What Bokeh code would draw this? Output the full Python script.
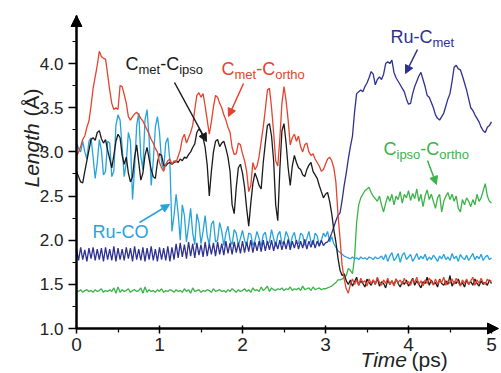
import math
from bokeh.plotting import figure
from bokeh.models import (Range1d, FixedTicker, PrintfTickFormatter, Label, Arrow,
                          NormalHead, LinearAxis)
from bokeh.embed import file_html
from bokeh.resources import INLINE

FONT = "Liberation Sans"

# ---------------- data ----------------
# sampling grid, ps
time_ps = [round(i * 0.025, 3) for i in range(201)]

# C_met - C_ortho (red)
cmet_cortho = [
    2.95, 3.00, 3.06, 3.14, 3.18, 3.28, 3.35, 3.52, 3.72, 3.85,
    3.98, 4.14, 4.08, 4.06, 4.05, 3.88, 3.70, 3.55, 3.48, 3.50,
    3.48, 3.75, 3.74, 3.65, 3.55, 3.40, 3.36, 3.40, 3.43, 3.45,
    3.42, 3.38, 3.35, 3.30, 3.25, 3.20, 3.14, 3.10, 3.04, 3.00,
    2.88, 2.82, 2.78, 2.86, 2.90, 2.92, 2.86, 2.90, 2.88, 2.95,
    3.02, 3.15, 3.20, 3.10, 3.16, 3.22, 3.30, 3.48, 3.64, 3.67,
    3.62, 3.66, 3.52, 3.36, 3.20, 3.34, 3.51, 3.64, 3.62, 3.55,
    3.50, 3.42, 3.36, 3.28, 3.22, 3.05, 2.97, 2.98, 3.10, 3.08,
    2.98, 2.90, 2.78, 2.55, 2.62, 2.88, 2.80, 2.84, 2.95, 3.12,
    3.28, 3.48, 3.70, 3.72, 3.50, 3.22, 2.90, 2.84, 3.15, 3.55,
    3.74, 3.58, 3.36, 3.08, 3.16, 3.20, 3.12, 3.18, 3.06, 3.00,
    3.08, 3.10, 3.00, 2.96, 2.98, 2.92, 2.88, 2.84, 2.78, 2.80,
    2.86, 2.92, 2.94, 2.90, 2.82, 2.66, 2.30, 2.02, 1.72, 1.56,
    1.45, 1.40, 1.50,
    1.56, 1.50, 1.55, 1.49, 1.57, 1.52, 1.54, 1.48, 1.56, 1.51,
    1.55, 1.50, 1.58, 1.52, 1.49, 1.55, 1.51, 1.57, 1.50, 1.54,
    1.48, 1.56, 1.52, 1.55, 1.50, 1.57, 1.51, 1.53, 1.49, 1.56,
    1.52, 1.58, 1.50, 1.54, 1.48, 1.55, 1.51, 1.57, 1.53, 1.49,
    1.56, 1.50, 1.55, 1.52, 1.58, 1.49, 1.54, 1.51, 1.56, 1.50,
    1.57, 1.52, 1.48, 1.55, 1.51, 1.56, 1.50, 1.54, 1.58, 1.49,
    1.55, 1.51, 1.57, 1.52, 1.50, 1.56, 1.53, 1.54,
]

# C_met - C_ipso (black)
cmet_cipso = [
    2.78, 2.72, 2.66, 2.65, 2.78, 2.90, 3.02, 3.14, 3.16, 3.13,
    3.22, 3.24, 3.15, 3.10, 3.14, 3.02, 2.92, 2.82, 2.96, 3.12,
    3.20, 3.16, 2.96, 2.86, 2.94, 2.76, 2.66, 2.72, 2.94, 3.08,
    2.88, 2.68, 2.76, 2.96, 3.05, 2.92, 2.80, 2.72, 2.70, 2.88,
    2.98, 2.96, 2.85, 2.84, 2.87, 2.88, 2.86, 2.88, 2.90, 2.88,
    2.92, 2.90, 2.94, 2.93, 2.97, 3.00, 3.05, 3.09, 3.22, 3.26,
    3.23, 3.16, 3.05, 2.85, 2.50, 2.78, 3.00, 3.12, 3.14, 3.06,
    3.10, 3.12, 3.04, 2.94, 2.78, 2.40, 2.30, 2.60, 2.82, 2.86,
    2.76, 2.60, 2.36, 2.16, 2.42, 2.64, 2.76, 2.70, 2.62, 2.58,
    2.88, 3.10, 3.30, 3.32, 3.18, 2.90, 2.40, 2.22, 2.80, 3.24,
    3.32, 3.10, 2.82, 2.62, 2.84, 2.96, 2.88, 2.82, 2.80, 2.74,
    2.72, 2.80, 2.85, 2.88, 2.78, 2.74, 2.70, 2.62, 2.55, 2.48,
    2.52, 2.54, 2.44, 2.30, 2.12, 1.98, 1.80, 1.66, 1.60, 1.62,
    1.54,
    1.50, 1.55, 1.48, 1.53, 1.58, 1.49, 1.54, 1.51, 1.47, 1.56,
    1.52, 1.49, 1.55, 1.50, 1.57, 1.48, 1.53, 1.51, 1.46, 1.55,
    1.50, 1.54, 1.49, 1.56, 1.51, 1.47, 1.53, 1.50, 1.55, 1.48,
    1.52, 1.57, 1.49, 1.54, 1.50, 1.46, 1.53, 1.51, 1.58, 1.49,
    1.55, 1.50, 1.52, 1.47, 1.56, 1.51, 1.49, 1.54, 1.50, 1.60,
    1.48, 1.53, 1.51, 1.56, 1.49, 1.52, 1.47, 1.55, 1.50, 1.53,
    1.49, 1.56, 1.51, 1.48, 1.54, 1.50, 1.52, 1.49, 1.55, 1.51,
]

# Ru - CO (light blue)
ru_co = [
    3.10, 3.04, 3.00, 3.12, 3.00, 2.92, 3.12, 3.16, 2.94, 2.70,
    2.88, 3.14, 3.02, 2.74, 2.78, 3.12, 3.10, 2.72, 2.78, 3.30,
    3.42, 3.36, 3.05, 2.72, 2.88, 3.22, 3.12, 2.46, 2.82, 3.30,
    3.44, 2.95, 2.80, 3.36, 3.48, 3.15, 2.62, 2.90, 3.28, 3.40,
    3.22, 2.88, 2.80, 3.10, 3.16, 2.90, 2.10, 2.28, 2.52, 2.30,
    2.00, 2.40, 2.28, 1.98, 2.16, 2.36, 2.08, 1.95, 2.30, 2.20,
    1.96, 2.10, 2.28, 2.05, 1.95, 2.18, 2.22, 1.98, 2.00, 2.20,
    2.10, 1.94, 2.08, 2.16, 2.00, 1.95, 2.12, 2.08, 1.94, 2.02,
    2.11, 2.00, 1.94, 2.08, 2.07, 1.94, 2.00, 2.10, 2.02, 1.93,
    2.06, 2.09, 1.96, 1.98, 2.12, 2.02, 1.93, 2.06, 2.10, 1.96,
    1.98, 2.10, 2.04, 1.93, 2.04, 2.09, 1.97, 1.96, 2.08, 2.06,
    1.94, 2.02, 2.10, 1.98, 1.95, 2.08, 2.05, 1.94, 2.00, 2.08,
    2.04, 2.10, 1.98, 2.04, 1.96, 1.92, 1.88, 1.86, 1.84, 1.82,
    1.81, 1.80,
    1.79, 1.81, 1.79, 1.80, 1.78, 1.81, 1.79, 1.80, 1.78, 1.81,
    1.80, 1.78, 1.81, 1.79, 1.80, 1.82, 1.78,
    1.84, 1.76, 1.82, 1.86, 1.77, 1.80, 1.85, 1.75, 1.83, 1.86,
    1.78, 1.81, 1.84, 1.76, 1.80, 1.85, 1.78, 1.82, 1.79, 1.84,
    1.77, 1.81, 1.78, 1.83, 1.80, 1.76, 1.82, 1.79, 1.84, 1.78,
    1.81, 1.77, 1.85, 1.79, 1.82, 1.76, 1.84, 1.80, 1.78, 1.83,
    1.77, 1.81, 1.85, 1.78, 1.82, 1.79, 1.84, 1.77, 1.81, 1.83,
    1.78, 1.80,
]

# Ru - C_met (dark blue)
ru_cmet = [
    1.90, 1.77, 1.92, 1.78, 1.89, 1.76, 1.91, 1.79, 1.92, 1.77,
    1.90, 1.78, 1.91, 1.76, 1.92, 1.78, 1.90, 1.77, 1.93, 1.76,
    1.91, 1.78, 1.90, 1.77, 1.92, 1.79, 1.91, 1.76, 1.93, 1.78,
    1.90, 1.77, 1.92, 1.76, 1.91, 1.78, 1.93, 1.77, 1.90, 1.76,
    1.92, 1.78, 1.91, 1.77, 1.93, 1.76, 1.92, 1.78,
    1.96, 1.80, 1.97, 1.81, 1.95, 1.79, 1.98, 1.82, 1.96, 1.80,
    1.97, 1.83, 1.95, 1.81, 1.98, 1.82, 1.96, 1.84, 1.97, 1.82,
    1.98, 1.84, 1.96, 1.83, 1.99, 1.85, 1.97, 1.84, 1.98, 1.86,
    1.97, 1.85, 1.99, 1.86, 1.98, 1.87, 2.00, 1.86, 1.98, 1.88,
    1.99, 1.87, 2.00,
    1.88, 1.99, 1.89, 2.00, 1.88, 1.98, 1.90, 2.00, 1.89, 1.99,
    1.90, 2.01, 1.89, 1.99, 1.91, 2.00, 1.90, 1.99, 1.91, 2.01,
    1.90, 1.99, 1.92, 2.00, 1.91, 1.99, 1.93, 2.00, 1.94, 1.97,
    1.98, 2.02, 2.08, 2.15, 2.22, 2.28, 2.31, 2.45, 2.62, 2.76,
    2.92, 3.06, 3.18, 3.45, 3.66, 3.68, 3.70, 3.68, 3.74, 3.78,
    3.84, 3.91, 3.88, 3.76, 3.82, 3.85, 3.82, 3.88, 4.00, 4.02,
    4.00, 4.04, 3.90, 3.84, 3.80, 3.76, 3.72, 3.68, 3.60, 3.54,
    3.55, 3.66, 3.74, 3.80, 3.86, 3.90, 3.82, 3.74, 3.64, 3.62,
    3.56, 3.50, 3.42, 3.38, 3.36, 3.40, 3.44, 3.52, 3.60, 3.66,
    3.80, 3.96, 3.98, 3.94, 3.93, 3.86, 3.78, 3.70, 3.60, 3.50,
    3.47, 3.42, 3.38, 3.34, 3.28, 3.24, 3.22, 3.28, 3.30, 3.34,
]

# C_ipso - C_ortho (green)
cipso_cortho = [
    1.43, 1.42, 1.44, 1.41, 1.43, 1.44, 1.42, 1.43, 1.41, 1.44,
    1.42, 1.43, 1.45, 1.41, 1.43, 1.42, 1.44, 1.42, 1.46, 1.40,
    1.47, 1.41, 1.44, 1.42, 1.43, 1.45, 1.41, 1.43, 1.44, 1.42,
    1.43, 1.46, 1.40, 1.47, 1.41, 1.44, 1.42, 1.43, 1.41, 1.44,
    1.42, 1.45, 1.41, 1.43, 1.42, 1.44, 1.43, 1.41, 1.44, 1.42,
    1.43, 1.41, 1.45, 1.42, 1.44, 1.40, 1.46, 1.42, 1.43, 1.44,
    1.41, 1.43, 1.42, 1.44, 1.43, 1.41, 1.45, 1.42, 1.43, 1.44,
    1.42, 1.43, 1.41, 1.44, 1.42, 1.45, 1.43, 1.41, 1.44, 1.42,
    1.43, 1.45, 1.42, 1.44, 1.41, 1.46, 1.43, 1.44, 1.42, 1.47,
    1.43, 1.45, 1.48, 1.42, 1.46, 1.44, 1.43, 1.45, 1.44, 1.46,
    1.43, 1.45, 1.44, 1.47, 1.43, 1.45, 1.44, 1.46, 1.43, 1.48,
    1.44, 1.45, 1.46, 1.43, 1.47, 1.44, 1.45, 1.46, 1.44, 1.45,
    1.45,
    1.46, 1.47, 1.48, 1.50, 1.52, 1.55, 1.55, 1.56, 1.58, 1.60,
    1.68, 1.66, 1.62, 1.80, 2.20, 2.40, 2.48, 2.52, 2.56, 2.58,
    2.60, 2.54, 2.50, 2.47, 2.44, 2.50, 2.40, 2.32, 2.42, 2.50,
    2.44, 2.52, 2.40, 2.50, 2.46, 2.55, 2.42, 2.52, 2.48, 2.56,
    2.45, 2.53, 2.47, 2.58, 2.44, 2.52, 2.38, 2.50, 2.57, 2.46,
    2.52, 2.44, 2.36, 2.48, 2.52, 2.32, 2.44, 2.50, 2.54, 2.46,
    2.52, 2.44, 2.50, 2.36, 2.32, 2.46, 2.40, 2.48, 2.44, 2.38,
    2.46, 2.40, 2.52, 2.44, 2.48, 2.56, 2.64, 2.50, 2.44, 2.42,
]

x_ticks = [0, 1, 2, 3, 4, 5]
x_minor = [0.5, 1.5, 2.5, 3.5, 4.5]
y_ticks = [1.0, 1.5, 2.0, 2.5, 3.0, 3.5, 4.0]
y_minor = [1.25, 1.75, 2.25, 2.75, 3.25, 3.75, 4.25]

for s in (cmet_cortho, cmet_cipso, ru_co, ru_cmet, cipso_cortho):
    assert len(s) == len(time_ps), len(s)

RED = "#e5432d"
BLACK = "#1a1a1a"
LBLUE = "#27a3dc"
NAVY = "#2e3192"
GREEN = "#3bb34a"

# ---------------- figure ----------------
# the canvas starts at the page's top-left corner; the frame fills the canvas
W, H = 500, 372
PX_PER_X = 83.0      # pixels per ps
PX_PER_Y = 88.3      # pixels per Angstrom
X0_PX, Y1_PX = 76.0, 328.0   # pixel position of t=0 and of L=1.0
X_MIN = -X0_PX / PX_PER_X
X_MAX = X_MIN + W / PX_PER_X
Y_MAX = 1.0 + Y1_PX / PX_PER_Y
Y_MIN = Y_MAX - H / PX_PER_Y
X_ARROW = (498.0 - X0_PX) / PX_PER_X
Y_ARROW = 1.0 + (Y1_PX - 15.0) / PX_PER_Y

p = figure(width=W, height=H, output_backend="svg", toolbar_location=None,
           x_range=Range1d(X_MIN, X_MAX), y_range=Range1d(Y_MIN, Y_MAX),
           x_axis_location=None, y_axis_location=None, min_border=0)
p.outline_line_color = None
p.grid.visible = False
p.background_fill_color = "white"
p.border_fill_color = "white"

xax = LinearAxis(fixed_location=1.0, bounds=(0, 5))
yax = LinearAxis(fixed_location=0.0, bounds=(1.0, Y_ARROW))
p.add_layout(xax, "below")
p.add_layout(yax, "left")
xax.ticker = FixedTicker(ticks=x_ticks, minor_ticks=x_minor)
yax.ticker = FixedTicker(ticks=y_ticks, minor_ticks=y_minor)
xax.formatter = PrintfTickFormatter(format="%d")
yax.formatter = PrintfTickFormatter(format="%.1f")
for ax in (xax, yax):
    ax.axis_line_width = 2
    ax.axis_line_color = "black"
    ax.major_tick_line_width = 1.5
    ax.minor_tick_line_width = 1.2
    ax.major_tick_line_color = "black"
    ax.minor_tick_line_color = "black"
    ax.major_label_text_font = FONT
    ax.major_label_text_color = "#222222"
xax.major_tick_in = 3
xax.major_tick_out = 5
xax.minor_tick_in = 0
xax.minor_tick_out = 4
xax.major_label_text_font_size = "19px"
xax.major_label_standoff = 4
yax.major_tick_in = 0
yax.major_tick_out = 8
yax.minor_tick_in = 0
yax.minor_tick_out = 4
yax.major_label_text_font_size = "17px"
yax.major_label_standoff = 5

# axis arrows
p.add_layout(Arrow(end=NormalHead(size=11, fill_color="black", line_color="black"),
                   x_start=0, y_start=1.0, x_end=X_ARROW, y_end=1.0,
                   line_color="black", line_width=2))
p.add_layout(Arrow(end=NormalHead(size=11, fill_color="black", line_color="black"),
                   x_start=0, y_start=1.0, x_end=0, y_end=Y_ARROW,
                   line_color="black", line_width=2))

# data lines
for vals, col in ((cipso_cortho, GREEN), (ru_co, LBLUE), (ru_cmet, NAVY),
                  (cmet_cipso, BLACK), (cmet_cortho, RED)):
    p.line(time_ps, vals, line_color=col, line_width=1.3)


# ---------------- annotations ----------------
def px2x(px):
    return (px - X0_PX) / PX_PER_X


def py2y(py):
    return 1.0 + (Y1_PX - py) / PX_PER_Y


MID = 0.36   # distance baseline -> middle of capitals, in font sizes


def text_at(txt, left_px, base_py, size, color, style="normal", vertical=False):
    if vertical:   # reads bottom-to-top; glyph tops face left
        x, y, ang = px2x(left_px - MID * size), py2y(base_py), math.pi / 2
    else:
        x, y, ang = px2x(left_px), py2y(base_py - MID * size), 0.0
    p.add_layout(Label(x=x, y=y, text=txt, angle=ang, text_font=FONT,
                       text_font_size=f"{size}px", text_font_style=style,
                       text_color=color, text_baseline="middle", text_align="left"))


WID = {'C': 0.722, 'R': 0.722, 'u': 0.556, '-': 0.333, 'O': 0.778, 'm': 0.833,
       'e': 0.556, 't': 0.278, 'i': 0.222, 'p': 0.556, 's': 0.5, 'o': 0.556,
       'r': 0.333, 'h': 0.556}


def rich(parts, left_px, base_py, color):
    x = left_px
    for txt, sub in parts:
        size = 13 if sub else 18
        text_at(txt, x, base_py + (4 if sub else 0), size, color)
        x += sum(WID[c] for c in txt) * size


def pointer(x0, y0, x1, y1, color):
    p.add_layout(Arrow(end=NormalHead(size=8, fill_color=color, line_color=color),
                       x_start=px2x(x0), y_start=py2y(y0), x_end=px2x(x1), y_end=py2y(y1),
                       line_color=color, line_width=1.5))


rich([("C", False), ("met", True), ("-C", False), ("ipso", True)], 125, 70, BLACK)
pointer(174, 82, 206, 141, BLACK)
rich([("C", False), ("met", True), ("-C", False), ("ortho", True)], 221, 75, RED)
pointer(243, 83, 228, 116, RED)
rich([("Ru-C", False), ("met", True)], 390, 43, NAVY)
pointer(417, 49, 405, 73, NAVY)
rich([("C", False), ("ipso", True), ("-C", False), ("ortho", True)], 383, 155, GREEN)
pointer(427, 160, 436, 184, GREEN)
rich([("Ru-CO", False)], 92, 238, LBLUE)
pointer(139, 222, 169, 204, LBLUE)

# axis titles
text_at("Length", 38.5, 187, 21, "#222222", style="italic", vertical=True)
text_at("(Å)", 38.5, 116, 21, "#222222", vertical=True)
text_at("Time", 360, 367, 21, "#222222", style="italic")
text_at("(ps)", 411, 367, 21, "#222222")

open("out.html", "w").write(file_html(p, INLINE))
